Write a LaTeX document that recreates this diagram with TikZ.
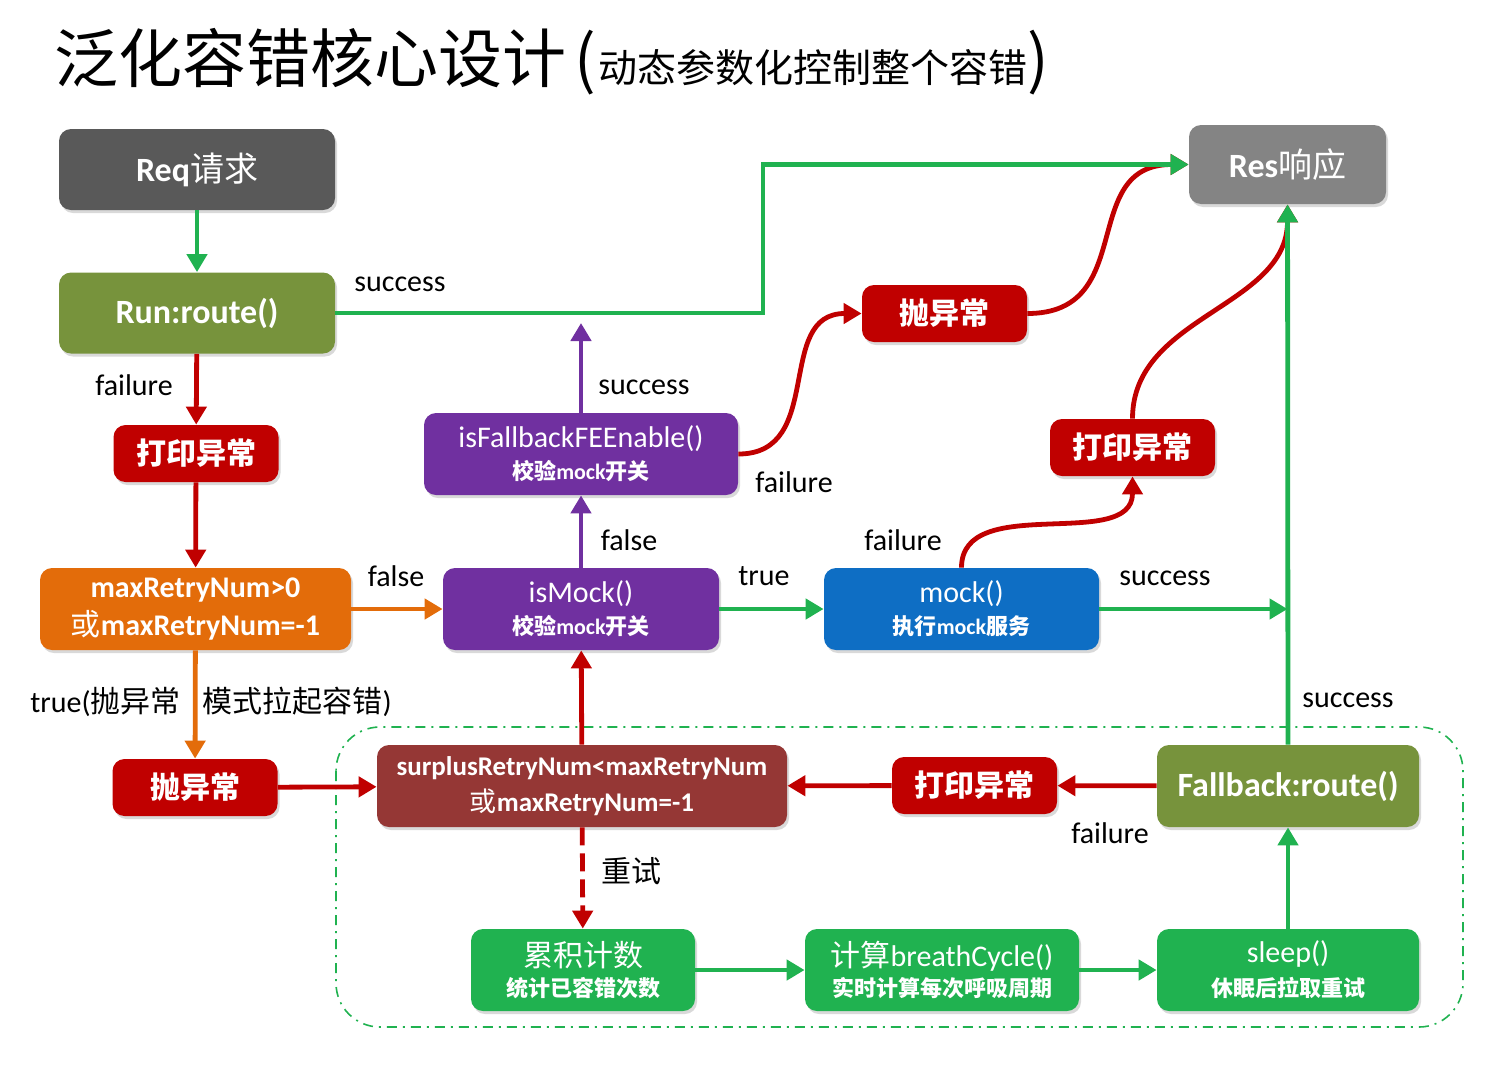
\documentclass[tikz,border=0pt]{standalone}
\usepackage{fontspec}
\setmainfont{Carlito}
\newfontfamily\cjk{Noto Sans CJK SC}
\usetikzlibrary{arrows.meta, shadows}
\definecolor{reqgray}{RGB}{89,89,89}
\definecolor{resgray}{RGB}{132,132,132}
\definecolor{routeolive}{RGB}{119,147,60}
\definecolor{errred}{RGB}{192,0,0}
\definecolor{checkred}{RGB}{149,55,53}
\definecolor{retryorange}{RGB}{227,108,10}
\definecolor{fbpurple}{RGB}{112,48,160}
\definecolor{mockblue}{RGB}{14,110,196}
\definecolor{okgreen}{RGB}{32,178,80}

\newcommand{\zh}[1]{{\cjk #1}}
\newcommand{\zhn}[1]{{\cjk\mdseries #1}}
\newcommand{\bigtxt}{\fontsize{17}{20}\selectfont}
\newcommand{\midtxt}{\fontsize{15}{18}\selectfont}
\newcommand{\subtxt}{\fontsize{11}{13}\selectfont\bfseries}

\tikzset{
  card/.style={rounded corners=6pt, text=white, align=center, inner sep=2pt,
    drop shadow={shadow xshift=1pt, shadow yshift=-1.5pt, opacity=0.3}},
  bigcard/.style={card, minimum height=40.5pt, font=\bigtxt\bfseries},
  twocard/.style={card, minimum height=41pt},
  errcard/.style={card, fill=errred, minimum width=82.5pt, minimum height=28.5pt, font=\midtxt\bfseries},
  lbl/.style={font=\midtxt, text=black, inner sep=0pt},
  link/.style={line width=2.4pt, -{Triangle[length=9pt,width=10pt]}},
}

\begin{document}
\begin{tikzpicture}[x=0.5pt, y=-0.5pt]
  \useasboundingbox (0,0) rectangle (1502,1066);

  % title
  \node[anchor=west, inner sep=0pt] (title) at (54,62)
    {\cjk\fontsize{32}{32}\selectfont 泛化容错核心设计\hspace{4pt}(\hspace{1pt}\fontsize{19.5}{20}\selectfont 动态参数化控制整个容错\fontsize{32}{32}\selectfont)};

  % retry loop frame
  \draw[okgreen, line width=0.8pt, dash pattern=on 5pt off 3pt on 1pt off 3pt, rounded corners=22pt]
    (336,727) rectangle (1463,1027);

  % main route
  \node[bigcard, fill=reqgray, minimum width=138pt] (req) at (197,169.5) {Req\zhn{请求}};
  \node[bigcard, fill=routeolive, minimum width=138pt] (run) at (197,313) {Run:route()};
  \node[errcard] (printA) at (196,453.5) {\zh{打印异常}};
  \node[twocard, fill=retryorange, minimum width=155.5pt, font=\midtxt\bfseries] (maxchk) at (195.5,609)
    {maxRetryNum>0\\[1pt]\zhn{或}maxRetryNum=-1};
  \node[errcard] (throwA) at (195,787.5) {\zh{抛异常}};

  % mock checks
  \node[twocard, fill=fbpurple, minimum width=138pt] (ismock) at (581,609)
    {{\midtxt isMock()}\\[4pt]{\subtxt\zh{校验}mock\zh{开关}}};
  \node[twocard, fill=fbpurple, minimum width=157pt] (isfb) at (581,454)
    {{\midtxt isFallbackFEEnable()}\\[4pt]{\subtxt\zh{校验}mock\zh{开关}}};
  \node[twocard, fill=mockblue, minimum width=137.5pt] (mock) at (961.5,609)
    {{\midtxt mock()}\\[4pt]{\subtxt\zh{执行}mock\zh{服务}}};
  \node[errcard] (throwB) at (944.5,313.5) {\zh{抛异常}};
  \node[errcard] (printC) at (1132.5,447.5) {\zh{打印异常}};
  \node[bigcard, fill=resgray, minimum width=98.5pt, minimum height=39.5pt] (res) at (1287.5,164.5) {Res\zhn{响应}};

  % retry loop
  \node[twocard, fill=checkred, minimum width=205pt, font=\fontsize{13.5}{17}\selectfont\bfseries] (surplus) at (582,786)
    {surplusRetryNum<maxRetryNum\\[1pt]\zhn{或}maxRetryNum=-1};
  \node[errcard] (printB) at (974.5,785.5) {\zh{打印异常}};
  \node[twocard, fill=routeolive, minimum width=131pt, font=\bigtxt\bfseries] (fallback) at (1288,786) {Fallback:route()};
  \node[twocard, fill=okgreen, minimum width=112pt] (count) at (583,970)
    {{\midtxt\zh{累积计数}}\\[3pt]{\subtxt\zh{统计已容错次数}}};
  \node[twocard, fill=okgreen, minimum width=137pt] (breath) at (942,970)
    {{\midtxt\zh{计算}breathCycle()}\\[3pt]{\subtxt\zh{实时计算每次呼吸周期}}};
  \node[twocard, fill=okgreen, minimum width=131pt] (sleep) at (1288,970)
    {{\midtxt sleep()}\\[4pt]{\subtxt\zh{休眠后拉取重试}}};

  % connectors
  \coordinate (upturn) at (763,313);
  \coordinate (fbok) at (581,323);
  \draw[link, okgreen] (req) -- (run);
  \draw[link, errred] (run) -- (printA);
  \draw[link, errred] (printA) -- (maxchk);
  \draw[link, retryorange] (maxchk) -- (ismock);
  \draw[link, retryorange] (maxchk) -- (throwA);
  \draw[link, errred] (throwA) -- (surplus);
  \draw[link, errred] (surplus) -- (ismock);
  \draw[link, fbpurple] (ismock) -- (isfb);
  \draw[link, fbpurple] (isfb) -- (fbok);
  \draw[link, errred] (isfb.east) to[out=0, in=180, looseness=1.2] (throwB.west);
  \draw[link, errred] (throwB.east) to[out=0, in=180, looseness=1.3] (res.west);
  \draw[link, errred] (mock.north) to[out=90, in=-90] (printC.south);
  \draw[link, errred] (printC.north) to[out=90, in=-90] (res.south);
  \draw[link, okgreen] (run.east) -- (upturn) |- (res.west);
  \draw[link, okgreen] (ismock) -- (mock);
  \draw[link, okgreen] (mock.east) -- (mock.east -| res.south);
  \draw[link, okgreen] (fallback) -- (res);
  \draw[link, errred] (fallback) -- (printB);
  \draw[link, errred] (printB) -- (surplus);
  \draw[link, errred, dash pattern=on 9pt off 4pt] (surplus) -- (count);
  \draw[link, okgreen] (count) -- (breath);
  \draw[link, okgreen] (breath) -- (sleep);
  \draw[link, okgreen] (sleep) -- (fallback);

  % labels
  \node[lbl] (okRun) at (400,284) {success};
  \node[lbl] (failRun) at (134,385) {failure};
  \node[lbl] (noRetry) at (396,576) {false};
  \node[lbl, anchor=west] (yesRetry) at (30,702) {true(\zh{抛异常}\hspace{11pt}\zh{模式拉起容错})};
  \node[lbl] (okFb) at (644,387) {success};
  \node[lbl] (failFb) at (794,482) {failure};
  \node[lbl] (noMock) at (629,540) {false};
  \node[lbl] (yesMock) at (764,576) {true};
  \node[lbl] (failMock) at (903,540) {failure};
  \node[lbl] (okMock) at (1165,578) {success};
  \node[lbl] (okFallback) at (1348,700) {success};
  \node[lbl] (failFallback) at (1110,833) {failure};
  \node[lbl] (retry) at (631,871) {\zh{重试}};
\end{tikzpicture}
\end{document}
